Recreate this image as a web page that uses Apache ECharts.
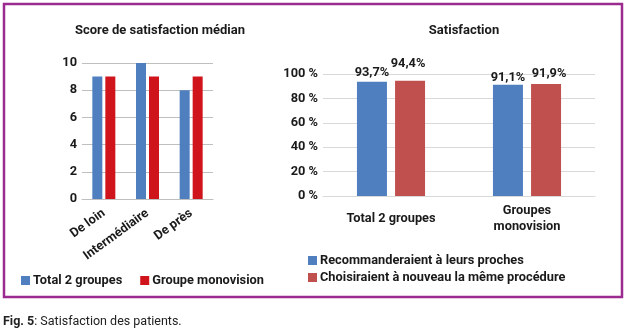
<!DOCTYPE html>
<html>
<head>
<meta charset="utf-8">
<script src="https://cdn.jsdelivr.net/npm/echarts@6/dist/echarts.min.js"></script>
<style>
html,body{margin:0;padding:0;background:#fff;}
#c{width:627px;height:333px;}
</style>
</head>
<body>
<div id="c"></div>
<script>
// Median satisfaction scores by distance
const scoreCategories = ['De loin', 'Intermédiaire', 'De près'];
const scoreTotal = [9, 10, 8];
const scoreMono = [9, 9, 9];
const scoreTicks = [0, 2, 4, 6, 8, 10];

// Overall satisfaction (%)
const satCategories = ['Total 2 groupes', 'Groupes\nmonovision'];
const satRecommend = [93.7, 91.1];
const satChooseAgain = [94.4, 91.9];
const satTicks = [0, 20, 40, 60, 80, 100];

const FONT = 'Roboto';
const FS = 12.8;
const BLUE = '#4f7fbf';
const RED_L = '#d0141c';
const RED_R = '#c0504d';
const TXT = '#1a1a1a';

const fmtPct = v => v.toFixed(1).replace('.', ',') + '%';

// per-label offsets for the staggered value labels
const recLabelOffsets = [[0, 1], [0, 2]];
const chooseLabelOffsets = [[-2, -8], [3, -1]];

const chart = echarts.init(document.getElementById('c'), null, {renderer: 'canvas'});

const option = {
  animation: false,
  textStyle: {fontFamily: FONT},
  title: [
    {text: 'Score de satisfaction médian', left: 155, top: 19, textAlign: 'center',
     textStyle: {fontSize: 13, fontWeight: 'bold', color: TXT, fontFamily: FONT}},
    {text: 'Satisfaction', left: 459, top: 19, textAlign: 'center',
     textStyle: {fontSize: 13, fontWeight: 'bold', color: TXT, fontFamily: FONT}}
  ],
  legend: [
    {data: ['Total 2 groupes', 'Groupe monovision'], left: 16, top: 269, orient: 'horizontal',
     itemWidth: 9, itemHeight: 9, itemGap: 18, icon: 'rect',
     textStyle: {fontSize: FS, fontWeight: 'bold', color: TXT, fontFamily: FONT, padding: [0, 0, 0, -2]}},
    {data: ['Recommanderaient à leurs proches', 'Choisiraient à nouveau la même procédure'],
     left: 303, top: 249, orient: 'vertical', itemWidth: 9, itemHeight: 9, itemGap: 4, icon: 'rect',
     textStyle: {fontSize: FS, fontWeight: 'bold', color: TXT, fontFamily: FONT, padding: [0, 0, 0, -2]}}
  ],
  grid: [
    {left: 82, right: 414, top: 63, bottom: 134},
    {left: 323, right: 32, top: 74, bottom: 137}
  ],
  xAxis: [
    {gridIndex: 0, type: 'category', data: scoreCategories,
     axisLine: {lineStyle: {color: '#bfbfbf'}}, axisTick: {show: false},
     axisLabel: {rotate: 36, margin: 13, fontSize: FS, fontWeight: 'bold', color: TXT, fontFamily: FONT, interval: 0}},
    {gridIndex: 1, type: 'category', data: satCategories,
     axisLine: {lineStyle: {color: '#d9d9d9'}}, axisTick: {show: false},
     axisLabel: {margin: 23, verticalAlign: 'middle', fontSize: FS, fontWeight: 'bold', color: TXT,
                 fontFamily: FONT, lineHeight: 16, interval: 0}}
  ],
  yAxis: [
    {gridIndex: 0, type: 'value', min: scoreTicks[0], max: scoreTicks[scoreTicks.length - 1], interval: 2,
     axisLine: {show: false}, axisTick: {show: false},
     splitLine: {lineStyle: {color: '#bfbfbf'}},
     axisLabel: {margin: 5, fontSize: FS, fontWeight: 'bold', color: TXT, fontFamily: FONT}},
    {gridIndex: 1, type: 'value', min: satTicks[0], max: satTicks[satTicks.length - 1], interval: 20,
     axisLine: {show: false}, axisTick: {show: false},
     splitLine: {lineStyle: {color: '#d9d9d9'}},
     axisLabel: {margin: 5, fontSize: FS, fontWeight: 'bold', color: TXT, fontFamily: FONT,
                 formatter: v => v + ' %'}}
  ],
  series: [
    {name: 'Total 2 groupes', type: 'bar', xAxisIndex: 0, yAxisIndex: 0, data: scoreTotal,
     barWidth: 10, barGap: '30%', itemStyle: {color: BLUE}},
    {name: 'Groupe monovision', type: 'bar', xAxisIndex: 0, yAxisIndex: 0, data: scoreMono,
     barWidth: 10, barGap: '30%', itemStyle: {color: RED_L}},
    {name: 'Recommanderaient à leurs proches', type: 'bar', xAxisIndex: 1, yAxisIndex: 1,
     data: satRecommend.map((v, i) => ({value: v, label: {offset: recLabelOffsets[i]}})),
     barWidth: 30, barGap: '27%', itemStyle: {color: BLUE},
     label: {show: true, position: 'top', distance: 3, formatter: p => fmtPct(p.value),
             fontSize: FS, fontWeight: 'bold', color: TXT, fontFamily: FONT}},
    {name: 'Choisiraient à nouveau la même procédure', type: 'bar', xAxisIndex: 1, yAxisIndex: 1,
     data: satChooseAgain.map((v, i) => ({value: v, label: {offset: chooseLabelOffsets[i]}})),
     barWidth: 30, barGap: '27%', itemStyle: {color: RED_R},
     label: {show: true, position: 'top', distance: 3, formatter: p => fmtPct(p.value),
             fontSize: FS, fontWeight: 'bold', color: TXT, fontFamily: FONT}}
  ],
  graphic: [
    {type: 'rect', shape: {x: 4, y: 4, width: 618, height: 293},
     style: {fill: 'none', stroke: '#9c2b8f', lineWidth: 2.5}, silent: true},
    {type: 'text', left: 3, top: 315,
     style: {rich: {b: {fontWeight: 'bold', fontSize: 12.5, fill: '#222', fontFamily: FONT},
                    n: {fontSize: 12.5, fill: '#222', fontFamily: FONT}},
             text: '{b|Fig. 5}{n|: Satisfaction des patients.}'}}
  ]
};
chart.setOption(option);
</script>
</body>
</html>
